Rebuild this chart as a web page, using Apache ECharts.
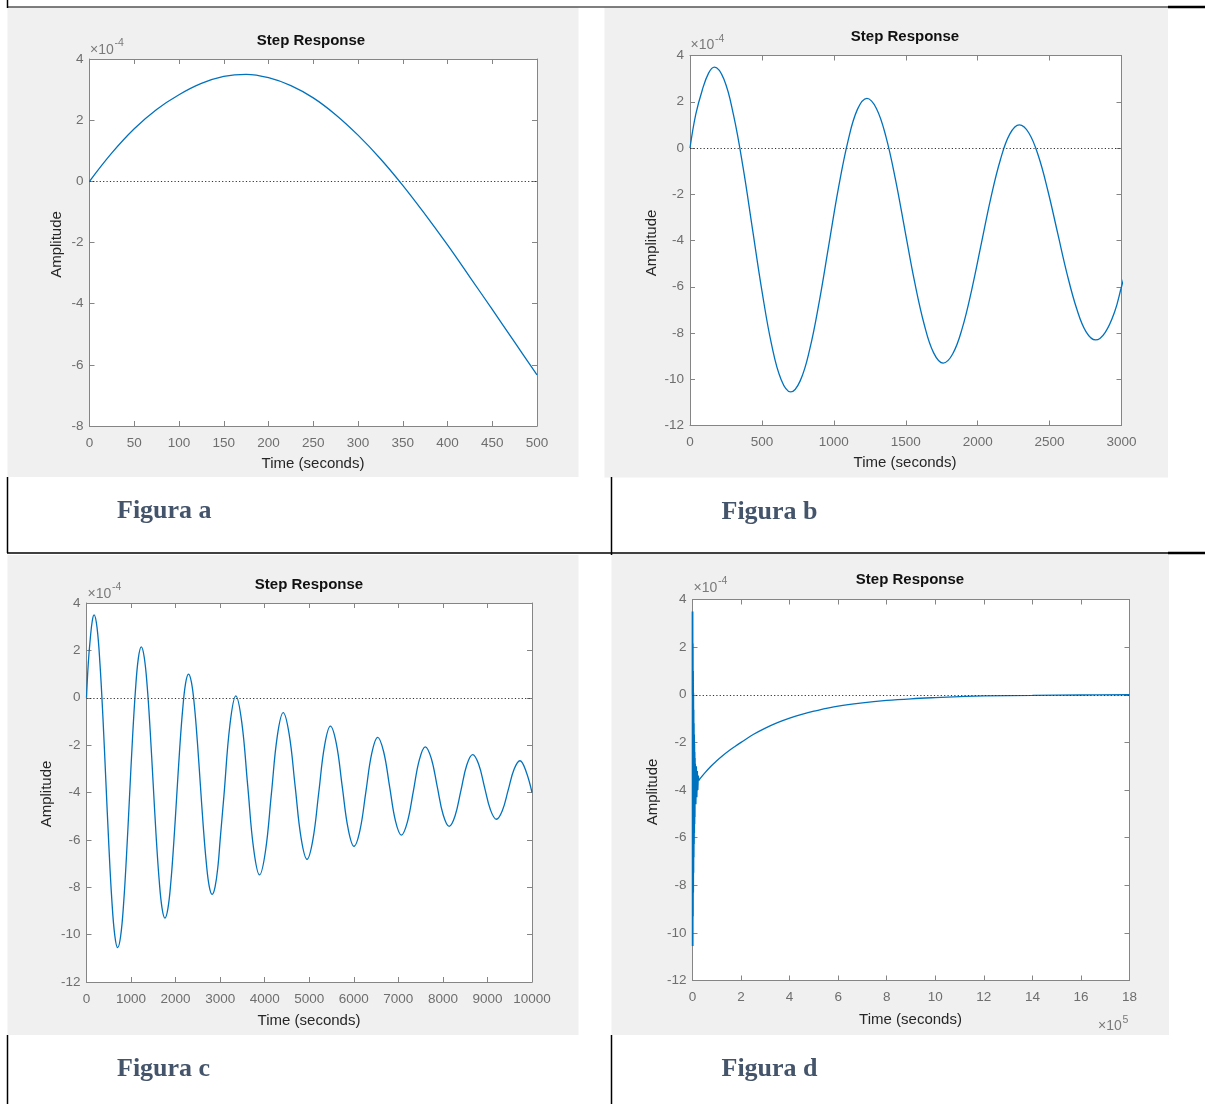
<!DOCTYPE html>
<html>
<head>
<meta charset="utf-8">
<script src="https://cdn.jsdelivr.net/npm/echarts@6/dist/echarts.min.js"></script>
<style>
html,body{margin:0;padding:0;background:#ffffff;}
#chart{width:1205px;height:1104px;}
</style>
</head>
<body>
<div id="chart"></div>
<script>
// ---------------- DATA (amplitude in units of 1e-4) ----------------
// Figura a : 0..500 s
const aTime = [0,25,50,75,100,125,150,175,200,225,250,275,300,325,350,375,400,425,450,475,500];
const aAmp  = [0,0.93,1.72,2.35,2.83,3.2,3.43,3.5,3.39,3.13,2.73,2.18,1.51,0.74,-0.13,-1.08,-2.08,-3.13,-4.19,-5.26,-6.33];

// Figura b / c : oscillating response 0..10000 s
const oscTime = [0,40,85,130,170,236,302,369,435,501,567,634,700,766,833,899,965,1031,1098,1164,1230,1296,1363,1429,1495,1561,1628,1694,1760,1826,1893,1959,2025,2091,2158,2224,2290,2356,2423,2489,2555,2621,2688,2754,2820,2886,2953,3000,3086,3219,3352,3485,3618,3751,3884,4017,4150,4282,4415,4549,4683,4816,4950,5081,5213,5344,5475,5608,5740,5873,6005,6138,6271,6404,6537,6670,6803,6935,7068,7202,7337,7471,7605,7739,7873,8006,8140,8272,8404,8536,8668,8801,8934,9067,9200,9333,9465,9598,9730,9865,10000];
const oscAmp  = [0,1.45,2.5,3.25,3.5,2.97,1.44,-0.84,-3.53,-6.21,-8.49,-10.02,-10.55,-10.07,-8.69,-6.63,-4.2,-1.77,0.29,1.67,2.15,1.71,0.47,-1.38,-3.58,-5.77,-7.62,-8.86,-9.3,-8.91,-7.79,-6.12,-4.15,-2.18,-0.51,0.61,1.0,0.65,-0.36,-1.87,-3.65,-5.43,-6.94,-7.95,-8.3,-7.98,-7.07,-6.0,-4.11,-1.15,0.08,-1.03,-3.7,-6.37,-7.48,-6.48,-4.06,-1.63,-0.63,-1.54,-3.73,-5.91,-6.82,-6.0,-4.01,-2.02,-1.2,-1.94,-3.74,-5.53,-6.27,-5.6,-3.97,-2.34,-1.67,-2.28,-3.74,-5.2,-5.8,-5.25,-3.94,-2.62,-2.07,-2.56,-3.75,-4.94,-5.43,-4.99,-3.92,-2.84,-2.4,-2.8,-3.77,-4.73,-5.13,-4.77,-3.9,-3.02,-2.66,-3.1,-4.0];

// Figura d : time in units of 1e5 s
const dBandTime = [0.11,0.13,0.15,0.17,0.19,0.21,0.23,0.25];
const dBandAmp  = [-2.9,-4.6,-3.0,-4.3,-3.2,-4.0,-3.4,-3.6];
const dSlowTime = [0.25,0.5,0.75,1,1.25,1.5,1.75,2,2.5,3,3.5,4,4.5,5,6,7,8,9,10,11,12,14,16,18];
const dSlowAmp  = [-3.6,-3.29,-3.01,-2.77,-2.55,-2.35,-2.17,-2.0,-1.67,-1.4,-1.17,-0.98,-0.82,-0.69,-0.48,-0.34,-0.24,-0.17,-0.12,-0.08,-0.05,-0.03,-0.01,0];

// Axis ranges [xmin,xmax,xstep,ymin,ymax,ystep]
const axisRanges = [
  [0,500,50,-8,4,2],
  [0,3000,500,-12,4,2],
  [0,10000,1000,-12,4,2],
  [0,18,2,-12,4,2]
];
const chartTitle = 'Step Response';
const xName = 'Time (seconds)';
const yName = 'Amplitude';
const figLabels = ['Figura a','Figura b','Figura c','Figura d'];

// ---------------- LAYOUT ----------------
const grids = [
  {left:89.5, top:59,    width:447.5, height:367},
  {left:690,  top:55.5,  width:431.5, height:370},
  {left:86.5, top:603,   width:445.5, height:379},
  {left:692.5,top:599.5, width:437,   height:381}
];
const panels = [
  {bg:[7.5,7.5,571,469.5],  title:[311,41],    xl:[313,463.5],  yl:[56.5,244.5], exp:[90,50],     fig:[117,511]},
  {bg:[604.5,7.5,563.5,470],title:[905,37],    xl:[905,463],    yl:[651.5,243],  exp:[690.5,45.5], fig:[721.5,512.5]},
  {bg:[7.5,555,571,480],    title:[309,584.5], xl:[309,1021],   yl:[46.5,794],   exp:[87.5,594],   fig:[117,1069.5]},
  {bg:[611.5,554,557.5,481],title:[910,580],   xl:[910.5,1020], yl:[653,792],    exp:[693.5,588],  fig:[721.5,1069]}
];
const tableLines = [
  [7,7,1168,7,1.2],[1168,7,1205,7,2.6],
  [7.5,0,7.5,8,1.5],[7.5,477,7.5,553,1.5],[611.5,477,611.5,555,1.5],
  [7,553,1168,553,1.5],[1168,553,1205,553,2.6],
  [7.5,1035,7.5,1104,1.5],[611.5,1035,611.5,1104,1.5]
];

const LINE_COLOR = '#0072BD';
const AXIS_COLOR = '#858585';
const TICK_TEXT = '#6e6e6e';
const FONT = '"Liberation Sans", Arial, Helvetica, sans-serif';

const zip = (xs, ys, k) => xs.map((x, i) => [x * (k || 1), ys[i]]);
const plain = v => String(v);

const xAxes = [], yAxes = [];
axisRanges.forEach((r, gi) => {
  const common = {
    gridIndex: gi, type: 'value',
    splitLine: {show: false},
    axisLine: {show: true, onZero: false, lineStyle: {color: AXIS_COLOR, width: 1}},
    axisTick: {show: true, inside: true, length: 5, lineStyle: {color: AXIS_COLOR, width: 1}}
  };
  const xr = {min: r[0], max: r[1], interval: r[2]};
  const yr = {min: r[3], max: r[4], interval: r[5]};
  xAxes.push(Object.assign({}, common, xr, {position: 'bottom',
    axisLabel: {show: true, formatter: plain, color: TICK_TEXT, fontSize: 13.5, fontFamily: FONT, margin: 10, showMinLabel: true, showMaxLabel: true}}));
  xAxes.push(Object.assign({}, common, xr, {position: 'top', axisLabel: {show: false}}));
  yAxes.push(Object.assign({}, common, yr, {position: 'left',
    axisLabel: {show: true, formatter: plain, color: TICK_TEXT, fontSize: 13.5, fontFamily: FONT, margin: 6, showMinLabel: true, showMaxLabel: true}}));
  yAxes.push(Object.assign({}, common, yr, {position: 'right', axisLabel: {show: false}}));
});

const zeroLine = {
  silent: true, symbol: ['none','none'], label: {show: false},
  lineStyle: {color: '#333333', type: [1.2, 2.2], width: 1},
  data: [{yAxis: 0}]
};
function lineSeries(gi, data, smooth, withZero, width) {
  const s = {
    type: 'line', xAxisIndex: gi * 2, yAxisIndex: gi * 2,
    data: data, smooth: smooth, showSymbol: false, symbol: 'none',
    lineStyle: {color: LINE_COLOR, width: width || 1.3},
    itemStyle: {color: LINE_COLOR}, clip: true, z: 3
  };
  if (withZero) s.markLine = zeroLine;
  return s;
}

const series = [
  lineSeries(0, zip(aTime, aAmp), 0.4, true),
  lineSeries(1, zip(oscTime, oscAmp), 0.4, true),
  lineSeries(2, zip(oscTime, oscAmp), 0.4, true),
  lineSeries(3, zip(oscTime, oscAmp, 1e-5).concat(zip(dBandTime, dBandAmp)), false, true, 1.8),
  lineSeries(3, zip(dSlowTime, dSlowAmp), 0.4, false, 1.3)
];

// ---------------- GRAPHIC (frame, texts) ----------------
const elements = [];
panels.forEach((p, i) => {
  elements.push({type: 'rect', silent: true, z: -10,
    shape: {x: p.bg[0], y: p.bg[1], width: p.bg[2], height: p.bg[3]}, style: {fill: '#f0f0f0'}});
  elements.push({type: 'text', silent: true, x: p.title[0], y: p.title[1],
    style: {text: chartTitle, font: 'bold 15px ' + FONT, fill: '#111111', textAlign: 'center', textVerticalAlign: 'middle'}});
  elements.push({type: 'text', silent: true, x: p.xl[0], y: p.xl[1],
    style: {text: xName, font: '15px ' + FONT, fill: '#262626', textAlign: 'center', textVerticalAlign: 'middle'}});
  elements.push({type: 'text', silent: true, x: p.yl[0], y: p.yl[1], rotation: Math.PI / 2,
    style: {text: yName, font: '15px ' + FONT, fill: '#262626', textAlign: 'center', textVerticalAlign: 'middle'}});
  elements.push({type: 'text', silent: true, x: p.exp[0], y: p.exp[1],
    style: {text: '\u00d710', font: '14px ' + FONT, fill: '#7a7a7a', textAlign: 'left', textVerticalAlign: 'middle'}});
  elements.push({type: 'text', silent: true, x: p.exp[0] + 24.5, y: p.exp[1] - 6.5,
    style: {text: '-4', font: '10.5px ' + FONT, fill: '#7a7a7a', textAlign: 'left', textVerticalAlign: 'middle'}});
  elements.push({type: 'text', silent: true, x: p.fig[0], y: p.fig[1],
    style: {text: figLabels[i], font: 'bold 26px "Liberation Serif", "Times New Roman", serif', fill: '#44546a', textAlign: 'left', textVerticalAlign: 'middle'}});
});
// x10^5 for figure d
elements.push({type: 'text', silent: true, x: 1098, y: 1026,
  style: {text: '\u00d710', font: '14px ' + FONT, fill: '#7a7a7a', textAlign: 'left', textVerticalAlign: 'middle'}});
elements.push({type: 'text', silent: true, x: 1122.5, y: 1020,
  style: {text: '5', font: '10.5px ' + FONT, fill: '#7a7a7a', textAlign: 'left', textVerticalAlign: 'middle'}});
tableLines.forEach(l => {
  elements.push({type: 'line', silent: true, z: 10,
    shape: {x1: l[0], y1: l[1], x2: l[2], y2: l[3]}, style: {stroke: '#000000', lineWidth: l[4]}});
});

const chart = echarts.init(document.getElementById('chart'), null, {renderer: 'canvas'});
chart.setOption({
  animation: false,
  backgroundColor: '#ffffff',
  grid: grids.map(g => Object.assign({show: true, backgroundColor: '#ffffff', borderWidth: 0, containLabel: false}, g)),
  xAxis: xAxes,
  yAxis: yAxes,
  series: series,
  graphic: {elements: elements}
});
</script>
</body>
</html>
